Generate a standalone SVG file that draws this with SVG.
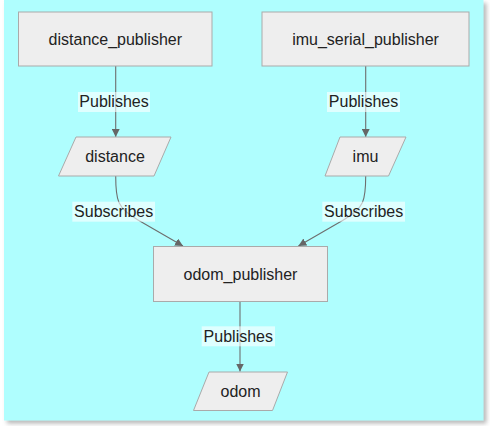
<svg xmlns="http://www.w3.org/2000/svg" width="490" height="426" viewBox="0 0 490 426">
<defs>
<filter id="sh" x="-5%" y="-5%" width="110%" height="110%">
<feDropShadow dx="3" dy="3" stdDeviation="2" flood-color="#888" flood-opacity="0.6"/>
</filter>
<marker id="arr" viewBox="0 0 10 10" refX="10" refY="5" markerUnits="userSpaceOnUse" markerWidth="8" markerHeight="8" orient="auto">
<path d="M0,0 L10,5 L0,10 z" fill="#666"/>
</marker>
<style>
.box{fill:#eeeeee;stroke:#aaaaaa;stroke-width:1}
.t{font-family:"Liberation Sans",Arial,sans-serif;font-size:16px;fill:#222;text-anchor:middle}
.e{fill:none;stroke:#6e6e6e;stroke-width:1.1;marker-end:url(#arr)}
.lb{fill:#ffffff;fill-opacity:0.6}
</style>
</defs>
<rect x="4" y="0" width="479.5" height="420.5" fill="#affefe" filter="url(#sh)"/>
<g id="connectors">
<path class="e" d="M115.7,66 L115.7,137"/>
<path class="e" d="M365.7,66 L365.7,137"/>
<path class="e" d="M115.7,176 C115.7,200 117,208 138,220 L183,246"/>
<path class="e" d="M365.7,176 C365.7,200 364.4,208 343.4,220 L298.4,246"/>
<path class="e" d="M240,301.5 L240,371.5"/>
<g id="edge-labels">
<rect class="lb" x="78" y="92" width="72" height="20"/>
<text class="t" x="114" y="107">Publishes</text>
<rect class="lb" x="327" y="92" width="73" height="20"/>
<text class="t" x="363.5" y="107">Publishes</text>
<rect class="lb" x="72.3" y="201.7" width="82.7" height="20"/>
<text class="t" x="113.7" y="217">Subscribes</text>
<rect class="lb" x="322.3" y="201.7" width="82.7" height="20"/>
<text class="t" x="363.7" y="217">Subscribes</text>
<rect class="lb" x="201.7" y="326.3" width="73.3" height="20"/>
<text class="t" x="238.3" y="341.5">Publishes</text>
</g>
</g>
<g id="distance_publisher">
<rect class="box" x="18.5" y="12" width="193.5" height="54"/>
<text class="t" x="115.3" y="44.5">distance_publisher</text>
</g>
<g id="imu_serial_publisher">
<rect class="box" x="262" y="12" width="207" height="54"/>
<text class="t" x="365.5" y="44.5">imu_serial_publisher</text>
</g>
<g id="distance">
<polygon class="box" points="76,137 171,137 154,176 58.5,176"/>
<text class="t" x="115" y="162">distance</text>
</g>
<g id="imu">
<polygon class="box" points="340,137 406,137 388.5,176 325,176"/>
<text class="t" x="365.5" y="162">imu</text>
</g>
<g id="odom_publisher">
<rect class="box" x="153.5" y="246.5" width="174" height="55"/>
<text class="t" x="240.5" y="279.5">odom_publisher</text>
</g>
<g id="odom">
<polygon class="box" points="209,372 287.5,372 272.5,410.5 193.5,410.5"/>
<text class="t" x="240.5" y="397">odom</text>
</g>
</svg>
